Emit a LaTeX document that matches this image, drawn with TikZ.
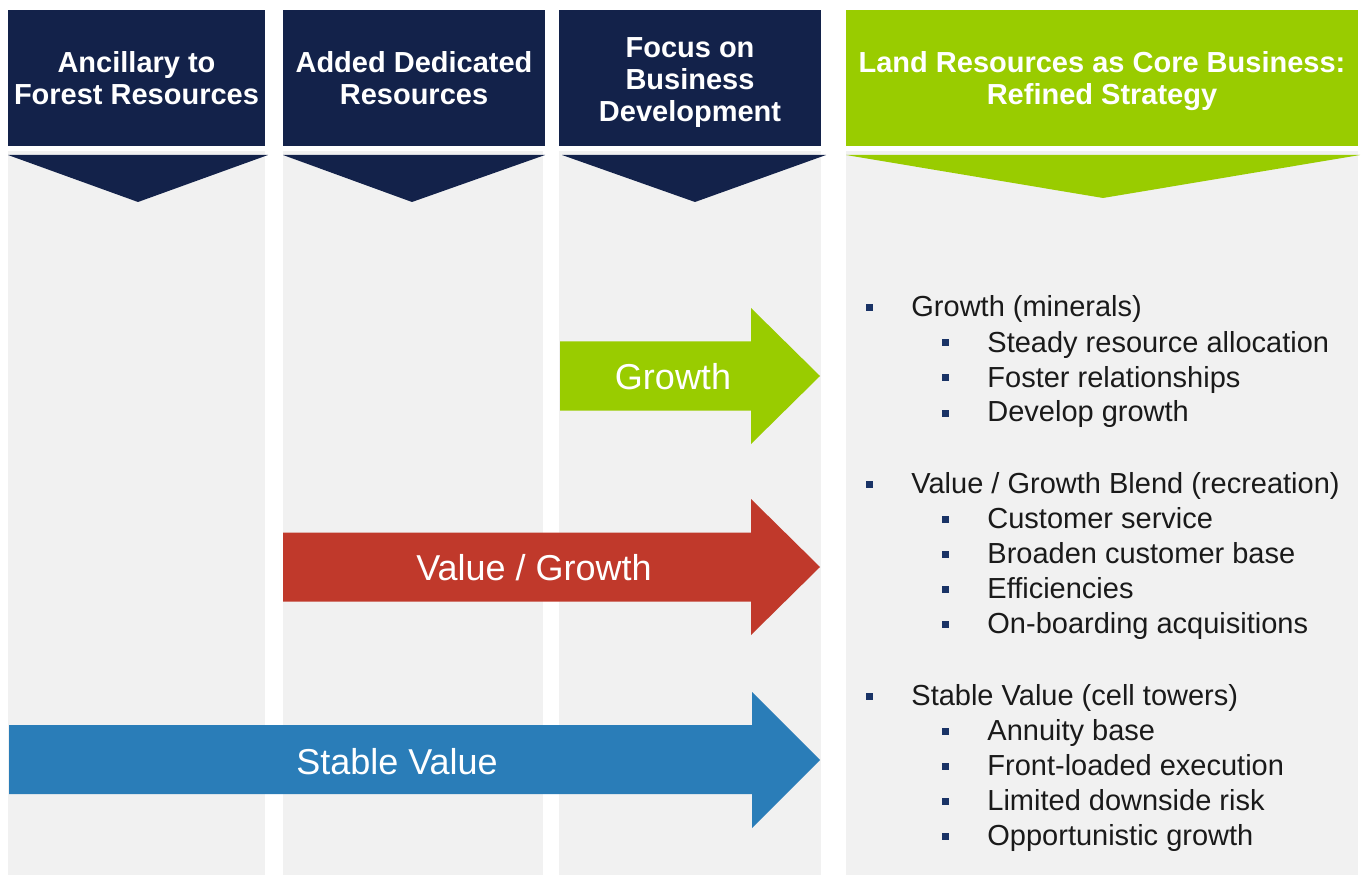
\documentclass[tikz,border=0pt]{standalone}
\usepackage{fontspec}
\setmainfont{Liberation Sans}
\definecolor{navy}{HTML}{13224A}
\definecolor{lgreen}{HTML}{99CC00}
\definecolor{vred}{HTML}{C0392B}
\definecolor{sblue}{HTML}{2A7DB8}
\definecolor{bgc}{HTML}{F1F1F1}
\definecolor{bulc}{HTML}{1A3366}
\definecolor{txt}{HTML}{1A1A1A}
\newcommand\levA[3]{\fill[bulc] (866,#1-12.5) rectangle (873,#1-5.5); \node[item] (#2) at (911,#1) {#3};}
\newcommand\levB[3]{\fill[bulc] (941.5,#1-12.5) rectangle (948.5,#1-5.5); \node[item] (#2) at (987,#1) {#3};}
\begin{document}
\begin{tikzpicture}[x=0.5pt,y=-0.5pt,
  hdr/.style={text=white, font=\bfseries\fontsize{14.5}{16}\selectfont, align=center, inner sep=0},
  arrlabel/.style={text=white, font=\fontsize{18}{20}\selectfont, inner sep=0},
  item/.style={anchor=base west, font=\fontsize{14.5}{17}\selectfont, text=txt, inner sep=0}]
\useasboundingbox[fill=white] (0,0) rectangle (1366,877);
% gray columns
\fill[bgc] (8,151) rectangle (265,875);
\fill[bgc] (283,151) rectangle (543,875);
\fill[bgc] (559,151) rectangle (821,875);
\fill[bgc] (846,151) rectangle (1358,875);
% headers
\fill[navy] (8,10) rectangle (265,146);
\fill[navy] (283,10) rectangle (545,146);
\fill[navy] (559,10) rectangle (821,146);
\fill[lgreen] (846,10) rectangle (1358,146);
\node[hdr] (h1) at (136.5,78) {Ancillary to\\Forest Resources};
\node[hdr] (h2) at (414,78) {Added Dedicated\\Resources};
\node[hdr] (h3) at (690,83) {Focus on\\Business\\Development};
\node[hdr] (h4) at (1102,81) {Land Resources as Core Business:\\Refined Strategy};
% chevrons
\fill[navy] (8,155) -- (268,155) -- (138,202) -- cycle;
\fill[navy] (283,155) -- (545,155) -- (412,202) -- cycle;
\fill[navy] (562,155) -- (826,155) -- (695,202) -- cycle;
\fill[lgreen] (846,155) -- (1360,155) -- (1103,198) -- cycle;
% arrows
\fill[lgreen] (560,341.5) -- (751,341.5) -- (751,308) -- (820,376) -- (751,444) -- (751,410.5) -- (560,410.5) -- cycle;
\fill[vred] (283,532.5) -- (751,532.5) -- (751,499) -- (820,567) -- (751,635) -- (751,601.5) -- (283,601.5) -- cycle;
\fill[sblue] (9,725) -- (752,725) -- (752,692) -- (820,760) -- (752,828) -- (752,794) -- (9,794) -- cycle;
\node[arrlabel] (ag) at (673,377) {Growth};
\node[arrlabel] (avg) at (534,568) {Value / Growth};
\node[arrlabel] (asv) at (397,762) {Stable Value};
% list
\levA{317}{g1}{Growth (minerals)}
\levB{352}{g2}{Steady resource allocation}
\levB{387}{g3}{Foster relationships}
\levB{422}{g4}{Develop growth}
\levA{493}{v1}{Value / Growth Blend (recreation)}
\levB{528}{v2}{Customer service}
\levB{563}{v3}{Broaden customer base}
\levB{598}{v4}{Efficiencies}
\levB{633}{v5}{On-boarding acquisitions}
\levA{705}{s1}{Stable Value (cell towers)}
\levB{740}{s2}{Annuity base}
\levB{775}{s3}{Front-loaded execution}
\levB{810}{s4}{Limited downside risk}
\levB{845}{s5}{Opportunistic growth}
\end{tikzpicture}
\end{document}
